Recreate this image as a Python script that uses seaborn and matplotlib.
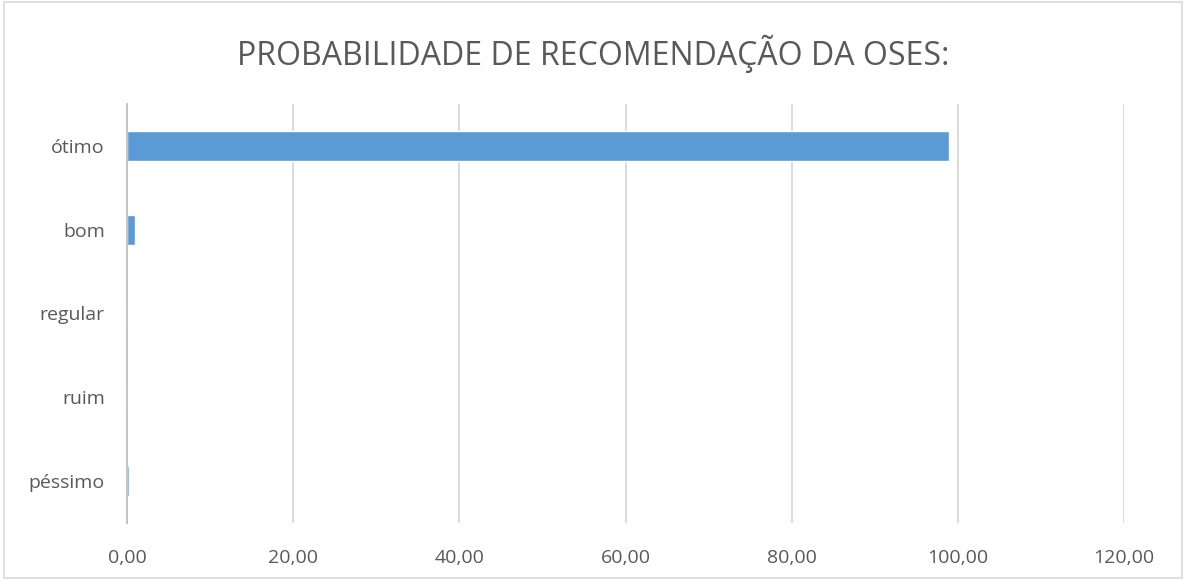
import matplotlib.pyplot as plt
import seaborn as sns
from matplotlib.ticker import FuncFormatter

# -----------------------------
# Data
categorias = ["ótimo", "bom", "regular", "ruim", "péssimo"]
valores = [98.9, 1.0, 0.0, 0.0, 0.2]
x_ticks = [0, 20, 40, 60, 80, 100, 120]

# -----------------------------
# Style
sns.set_style("white")
plt.rcParams["font.family"] = ["Open Sans", "DejaVu Sans"]

fig = plt.figure(figsize=(11.86, 5.8), dpi=100)
ax = fig.add_axes([127 / 1186, 1 - 523 / 580, (1124 - 127) / 1186, (523 - 104) / 580])

sns.barplot(x=valores, y=categorias, orient="h", color="#5B9BD5",
            saturation=1, width=0.36, ax=ax)

ax.set_xlim(0, 120)
ax.set_ylim(4.5, -0.5)
ax.set_xticks(x_ticks)
ax.xaxis.set_major_formatter(FuncFormatter(lambda v, p: f"{v:.2f}".replace(".", ",")))
ax.grid(axis="x", color="#D9D9D9", linewidth=1.3)
ax.set_axisbelow(True)
for s in ["top", "right", "bottom"]:
    ax.spines[s].set_visible(False)
ax.spines["left"].set_color("#BFBFBF")
ax.spines["left"].set_linewidth(1.3)
ax.tick_params(axis="both", length=0, labelsize=14, colors="#595959")
ax.tick_params(axis="y", pad=16)
ax.tick_params(axis="x", pad=19)
ax.set_xlabel("")
ax.set_ylabel("")

fig.text(0.5, 1 - 54 / 580, "PROBABILIDADE DE RECOMENDAÇÃO DA OSES:",
         ha="center", va="center", fontsize=23, color="#595959")

# light frame around the chart
fig.patches.append(plt.Rectangle((0.003, 0.003), 0.994, 0.994, transform=fig.transFigure,
                                 fill=False, edgecolor="#D9D9D9", linewidth=1.2))

plt.savefig("out.png", dpi=100)
